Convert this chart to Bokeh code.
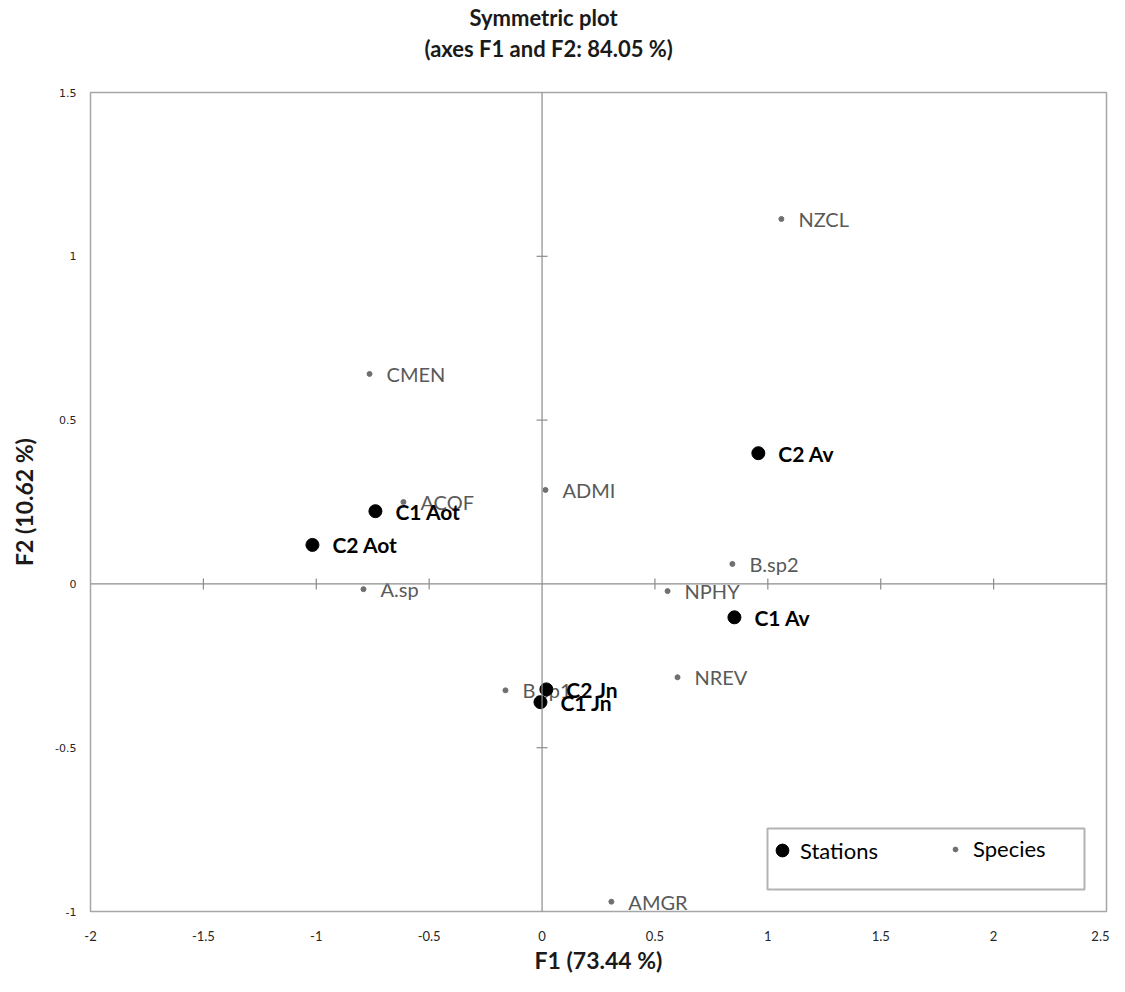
import math
from bokeh.plotting import figure
from bokeh.models import Range1d, FixedTicker, Span, Legend, LegendItem, BoxAnnotation, Title
from bokeh.core.properties import value
from bokeh.embed import file_html
from bokeh.resources import INLINE

# ---- data ----
station_names = ["C2 Av", "C1 Av", "C1 Aot", "C2 Aot", "C2 Jn", "C1 Jn"]
station_f1 = [0.958, 0.852, -0.738, -1.017, 0.019, -0.007]
station_f2 = [0.399, -0.102, 0.222, 0.119, -0.322, -0.361]

species_names = ["NZCL", "CMEN", "ACOF", "ADMI", "B.sp2", "NPHY", "A.sp", "NREV", "B.sp1", "AMGR"]
species_f1 = [1.060, -0.764, -0.614, 0.015, 0.843, 0.556, -0.791, 0.600, -0.162, 0.307]
species_f2 = [1.114, 0.641, 0.250, 0.287, 0.061, -0.022, -0.016, -0.285, -0.325, -0.970]

x_ticks = [-2, -1.5, -1, -0.5, 0, 0.5, 1, 1.5, 2, 2.5]
x_tick_labels = ["-2", "-1.5", "-1", "-0.5", "0", "0.5", "1", "1.5", "2", "2.5"]
y_ticks = [-1, -0.5, 0, 0.5, 1, 1.5]
y_tick_labels = ["-1", "-0.5", "0", "0.5", "1", "1.5"]

title_lines = ["Symmetric plot", "(axes F1 and F2: 84.05 %)"]
x_label = "F1 (73.44 %)"
y_label = "F2 (10.62 %)"

FONT = "Lato"

p = figure(width=1109, height=976, output_backend="svg", toolbar_location=None,
           x_range=Range1d(-2, 2.5), y_range=Range1d(-1, 1.5),
           min_border_left=90, min_border_right=3, min_border_top=60, min_border_bottom=64)
p.title = None
p.grid.visible = False
p.outline_line_color = "#a6a6a6"
p.outline_line_width = 1.5
p.background_fill_color = "white"
p.border_fill_color = "white"

for ax in (p.xaxis[0], p.yaxis[0]):
    ax.axis_line_color = None
    ax.major_tick_line_color = None
    ax.minor_tick_line_color = None
    ax.major_label_text_color = "#262626"
    ax.axis_label_text_font_style = "bold"
    ax.axis_label_text_font = FONT
    ax.axis_label_text_font_size = "23px"
    ax.axis_label_text_color = "#1a1a1a"

p.xaxis.ticker = FixedTicker(ticks=x_ticks)
p.xaxis.major_label_overrides = {t: s for t, s in zip(x_ticks, x_tick_labels)}
p.xaxis.major_label_text_font = FONT
p.xaxis.major_label_text_font_size = "13px"
p.xaxis.major_label_standoff = 13
p.xaxis.axis_label = x_label
p.xaxis.axis_label_standoff = 2

p.yaxis.ticker = FixedTicker(ticks=y_ticks)
p.yaxis.major_label_overrides = {t: s for t, s in zip(y_ticks, y_tick_labels)}
p.yaxis.major_label_text_font = "DejaVu Sans"
p.yaxis.major_label_text_font_size = "11px"
p.yaxis.major_label_standoff = 8
p.yaxis.axis_label = y_label
p.yaxis.axis_label_standoff = 14

# title: spacer nearest the frame, then second line, then first line
p.add_layout(Title(text=" ", standoff=14, text_font_size="12px"), "above")
p.add_layout(Title(text=title_lines[1], align="left", offset=334, standoff=2,
                   text_font=FONT, text_font_size="22px", text_font_style="bold",
                   text_color="#1a1a1a"), "above")
p.add_layout(Title(text=title_lines[0], align="left", offset=379, standoff=2,
                   text_font=FONT, text_font_size="22px", text_font_style="bold",
                   text_color="#1a1a1a"), "above")

# central axes
p.add_layout(Span(location=0, dimension="width", line_color="#8c8c8c", line_width=1.2))
p.add_layout(Span(location=0, dimension="height", line_color="#8c8c8c", line_width=1.2))
inner_x = [t for t in x_ticks[1:-1] if t != 0]
inner_y = [t for t in y_ticks[1:-1] if t != 0]
p.scatter(inner_x, [0] * len(inner_x), marker="dash", size=11, angle=math.pi / 2,
          line_color="#8c8c8c", line_width=1.2)
p.scatter([0] * len(inner_y), inner_y, marker="dash", size=11,
          line_color="#8c8c8c", line_width=1.2)

# species
sp = p.scatter(species_f1, species_f2, size=5, marker="circle",
               fill_color="#707070", line_color="#707070")
p.text(species_f1, species_f2, text=species_names, x_offset=17, text_baseline="middle",
       text_font=value(FONT), text_font_size="20px", text_color="#595959")

# stations
st = p.scatter(station_f1, station_f2, size=13, marker="circle",
               fill_color="black", line_color="black")
p.text(station_f1, station_f2, text=station_names, x_offset=20, text_baseline="middle",
       text_font=value(FONT), text_font_size="21px", text_font_style="bold", text_color="black")

# legend box + legends
p.add_layout(BoxAnnotation(left=677, right=994, bottom=22, top=83,
                           left_units="screen", right_units="screen",
                           bottom_units="screen", top_units="screen",
                           fill_color="white", fill_alpha=1.0,
                           line_color="black", line_width=2))
leg1 = Legend(items=[LegendItem(label="Stations", renderers=[st])], location=(676, 45),
              glyph_width=32, glyph_height=32, padding=0, margin=0, label_standoff=2,
              border_line_color=None, background_fill_alpha=0,
              label_text_font=FONT, label_text_font_size="22px", label_text_color="black")
leg2 = Legend(items=[LegendItem(label="Species", renderers=[sp])], location=(859, 49),
              glyph_width=12, glyph_height=12, padding=0, margin=0, label_standoff=12,
              border_line_color=None, background_fill_alpha=0,
              label_text_font=FONT, label_text_font_size="22px", label_text_color="black")
p.add_layout(leg1)
p.add_layout(leg2)

open("out.html", "w").write(file_html(p, INLINE))
